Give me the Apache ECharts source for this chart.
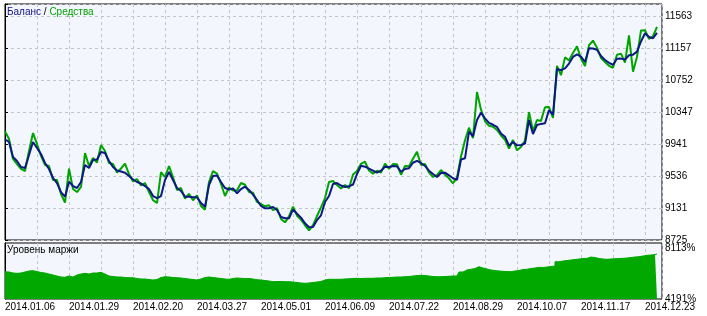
<!DOCTYPE html>
<html><head><meta charset="utf-8">
<script src="https://cdn.jsdelivr.net/npm/echarts@6/dist/echarts.min.js"></script>
<style>html,body{margin:0;padding:0;background:#fff}#c{width:707px;height:316px}</style>
</head><body><div id="c"></div>
<script>
var dateLabels = ['2014.01.06','2014.01.29','2014.02.20','2014.03.27','2014.05.01','2014.06.09','2014.07.22','2014.08.29','2014.10.07','2014.11.17','2014.12.23'];
var yLabels = [8725, 9131, 9536, 9941, 10347, 10752, 11157, 11563];
var marginLabels = ['4191%', '8113%'];
var balance = [10001,9967,9777,9726,9650,9637,9802,9967,9891,9815,
9701,9625,9511,9447,9333,9274,9464,9409,9384,9460,
9675,9637,9739,9745,9840,9827,9726,9650,9606,9593,
9578,9536,9492,9460,9441,9409,9371,9282,9257,9282,
9485,9587,9485,9384,9346,9274,9272,9266,9266,9194,
9147,9422,9536,9542,9460,9384,9365,9378,9317,9371,
9400,9359,9299,9232,9156,9127,9127,9143,9105,9016,
9000,9000,9111,9058,9009,8937,8886,8890,8978,9038,
9206,9282,9435,9447,9416,9397,9405,9428,9561,9666,
9654,9630,9604,9578,9603,9654,9650,9663,9659,9590,
9625,9635,9704,9728,9701,9663,9603,9562,9523,9574,
9578,9545,9507,9489,9745,9760,10097,10040,10245,10338,
10267,10210,10185,10157,10074,10034,9920,9967,9924,9929,
9948,10245,10068,10182,10196,10204,10372,10309,10892,10876,
10900,10960,11044,11077,11047,10980,11154,11151,11135,11056,
11006,10970,10945,11021,11023,11011,11065,11073,11111,11240,
11344,11297,11281,11348];
var equity = [10102,10005,9752,9688,9625,9599,9853,10081,9942,9790,
9676,9663,9486,9485,9308,9198,9629,9371,9333,9397,
9827,9662,9764,9707,9929,9852,9701,9688,9581,9631,
9692,9561,9467,9498,9416,9447,9333,9231,9194,9586,
9523,9663,9523,9359,9384,9249,9310,9228,9291,9156,
9109,9460,9599,9567,9435,9283,9390,9353,9355,9447,
9425,9334,9324,9207,9181,9152,9165,9105,9130,8991,
8949,9025,9149,9033,8984,8912,8848,8915,9029,9139,
9257,9459,9473,9422,9378,9422,9380,9555,9599,9691,
9717,9605,9566,9603,9578,9692,9625,9688,9684,9552,
9663,9660,9755,9842,9676,9688,9578,9524,9548,9612,
9553,9507,9444,9514,9783,9988,10148,10015,10600,10376,
10229,10172,10160,10119,10049,9996,9882,9992,9861,9904,
9986,10346,10106,10245,10234,10407,10410,10271,10930,10813,
11039,10998,11095,11178,11022,10929,11192,11252,11160,11031,
10981,10932,10907,11072,11086,10973,11318,10858,11048,11379,
11382,11272,11306,11424];
var margin = [6102,6081,6011,5990,6011,6081,6151,6172,6116,6046,
6011,5941,5871,5801,5731,5710,5801,5731,5871,5941,
5990,5941,6011,6011,6060,5941,5801,5766,5731,5731,
5696,5682,5682,5626,5591,5591,5556,5521,5556,5696,
5752,5731,5696,5682,5661,5626,5591,5556,5521,5591,
5696,5731,5696,5661,5626,5591,5570,5626,5661,5640,
5626,5626,5591,5542,5521,5486,5451,5402,5416,5416,
5402,5402,5381,5346,5311,5290,5311,5346,5381,5416,
5521,5570,5570,5570,5570,5591,5605,5626,5640,5626,
5640,5640,5640,5661,5661,5682,5696,5710,5731,5731,
5752,5766,5801,5836,5850,5836,5801,5766,5752,5752,
5766,5780,5801,5801,6081,6221,6270,6326,6452,6361,
6291,6221,6186,6151,6130,6116,6102,6151,6186,6256,
6270,6326,6361,6410,6396,6431,6466,6501,6802,6851,
6886,6921,6956,6991,7026,7040,7131,7096,7026,6991,
6970,6991,7012,7026,7040,7061,7096,7131,7152,7201,
7250,7271,7306,7341];

var FONT = 'Liberation Sans';
var yMin = 8725.4, yStep = 405.33, yMax = yMin + yStep * 236 / 32;
var xMax = 164.25, xStep = 8, labelEvery = 16;
var gridLine = {show: true, lineStyle: {color: '#c4c4cc', type: [3, 3], width: 1}};
function pairs(arr) { return arr.map(function (v, i) { return [i, v]; }); }

var chart = echarts.init(document.getElementById('c'), null, {renderer: 'canvas'});
chart.setOption({
  animation: false,
  backgroundColor: '#ffffff',
  grid: [
    {left: 5, top: 4, width: 657, height: 236, show: true, backgroundColor: '#f4f6fd', borderColor: '#000', borderWidth: 1},
    {left: 5, top: 243, width: 657, height: 56, show: true, backgroundColor: '#f4f6fd', borderColor: '#000', borderWidth: 1}
  ],
  xAxis: [
    {type: 'value', gridIndex: 0, min: 0, max: xMax, interval: xStep,
      axisLine: {show: false}, axisTick: {show: false}, axisLabel: {show: false}, splitLine: gridLine},
    {type: 'value', gridIndex: 1, min: 0, max: xMax, interval: xStep,
      axisLine: {show: false}, axisTick: {show: false}, splitLine: gridLine,
      axisLabel: {show: true, margin: 3, color: '#000', fontFamily: FONT, fontSize: 10, align: 'left',
        showMaxLabel: false,
        formatter: function (v) {
          if (Math.abs(v % labelEvery) > 1e-6) return '';
          var k = Math.round(v / labelEvery);
          return dateLabels[k] || '';
        }}}
  ],
  yAxis: [
    {type: 'value', gridIndex: 0, position: 'right', min: yMin, max: yMax, interval: yStep,
      axisLine: {show: true, lineStyle: {color: '#000'}},
      axisTick: {show: true, length: 3, lineStyle: {color: '#000'}},
      splitLine: gridLine,
      axisLabel: {margin: 3, color: '#000', fontFamily: FONT, fontSize: 10,
        formatter: function (v) {
          var k = Math.round((v - yMin) / yStep);
          if (Math.abs(v - (yMin + k * yStep)) > 1 || k < 0 || k >= yLabels.length) return '';
          return String(yLabels[k]);
        }}},
    {type: 'value', gridIndex: 1, position: 'right', min: 4191, max: 8113, interval: 3922,
      axisLine: {show: true, lineStyle: {color: '#000'}},
      axisTick: {show: false}, splitLine: {show: false},
      axisLabel: {margin: 3, color: '#000', fontFamily: FONT, fontSize: 10,
        formatter: function (v) {
          return v > 6000 ? '{t|' + marginLabels[1] + '}' : '{b|' + marginLabels[0] + '}';
        },
        rich: {t: {fontFamily: FONT, fontSize: 10, color: '#000', padding: [11, 0, 0, 0]},
               b: {fontFamily: FONT, fontSize: 10, color: '#000'}}}}
  ],
  series: [
    {type: 'line', xAxisIndex: 0, yAxisIndex: 0, data: pairs(equity), symbol: 'none',
      lineStyle: {color: '#00a400', width: 2}, z: 2},
    {type: 'line', xAxisIndex: 0, yAxisIndex: 0, data: pairs(balance), symbol: 'none',
      lineStyle: {color: '#0a1a82', width: 2}, z: 3},
    {type: 'line', xAxisIndex: 1, yAxisIndex: 1, data: pairs(margin), symbol: 'none', step: 'middle',
      lineStyle: {color: '#00a800', width: 1}, areaStyle: {color: '#00a800', opacity: 1, origin: 'start'}, z: 2}
  ],
  graphic: [
    {type: 'text', left: 7, top: 7, z: 10, style: {
      text: '{a|Баланс}{s| / }{g|Средства}',
      rich: {a: {fill: '#10108a', fontFamily: FONT, fontSize: 10},
             s: {fill: '#000', fontFamily: FONT, fontSize: 10},
             g: {fill: '#00a400', fontFamily: FONT, fontSize: 10}}}},
    {type: 'text', left: 7, top: 245, z: 10, style: {text: 'Уровень маржи', fill: '#000', fontFamily: FONT, fontSize: 10}}
  ]
});
</script></body></html>
